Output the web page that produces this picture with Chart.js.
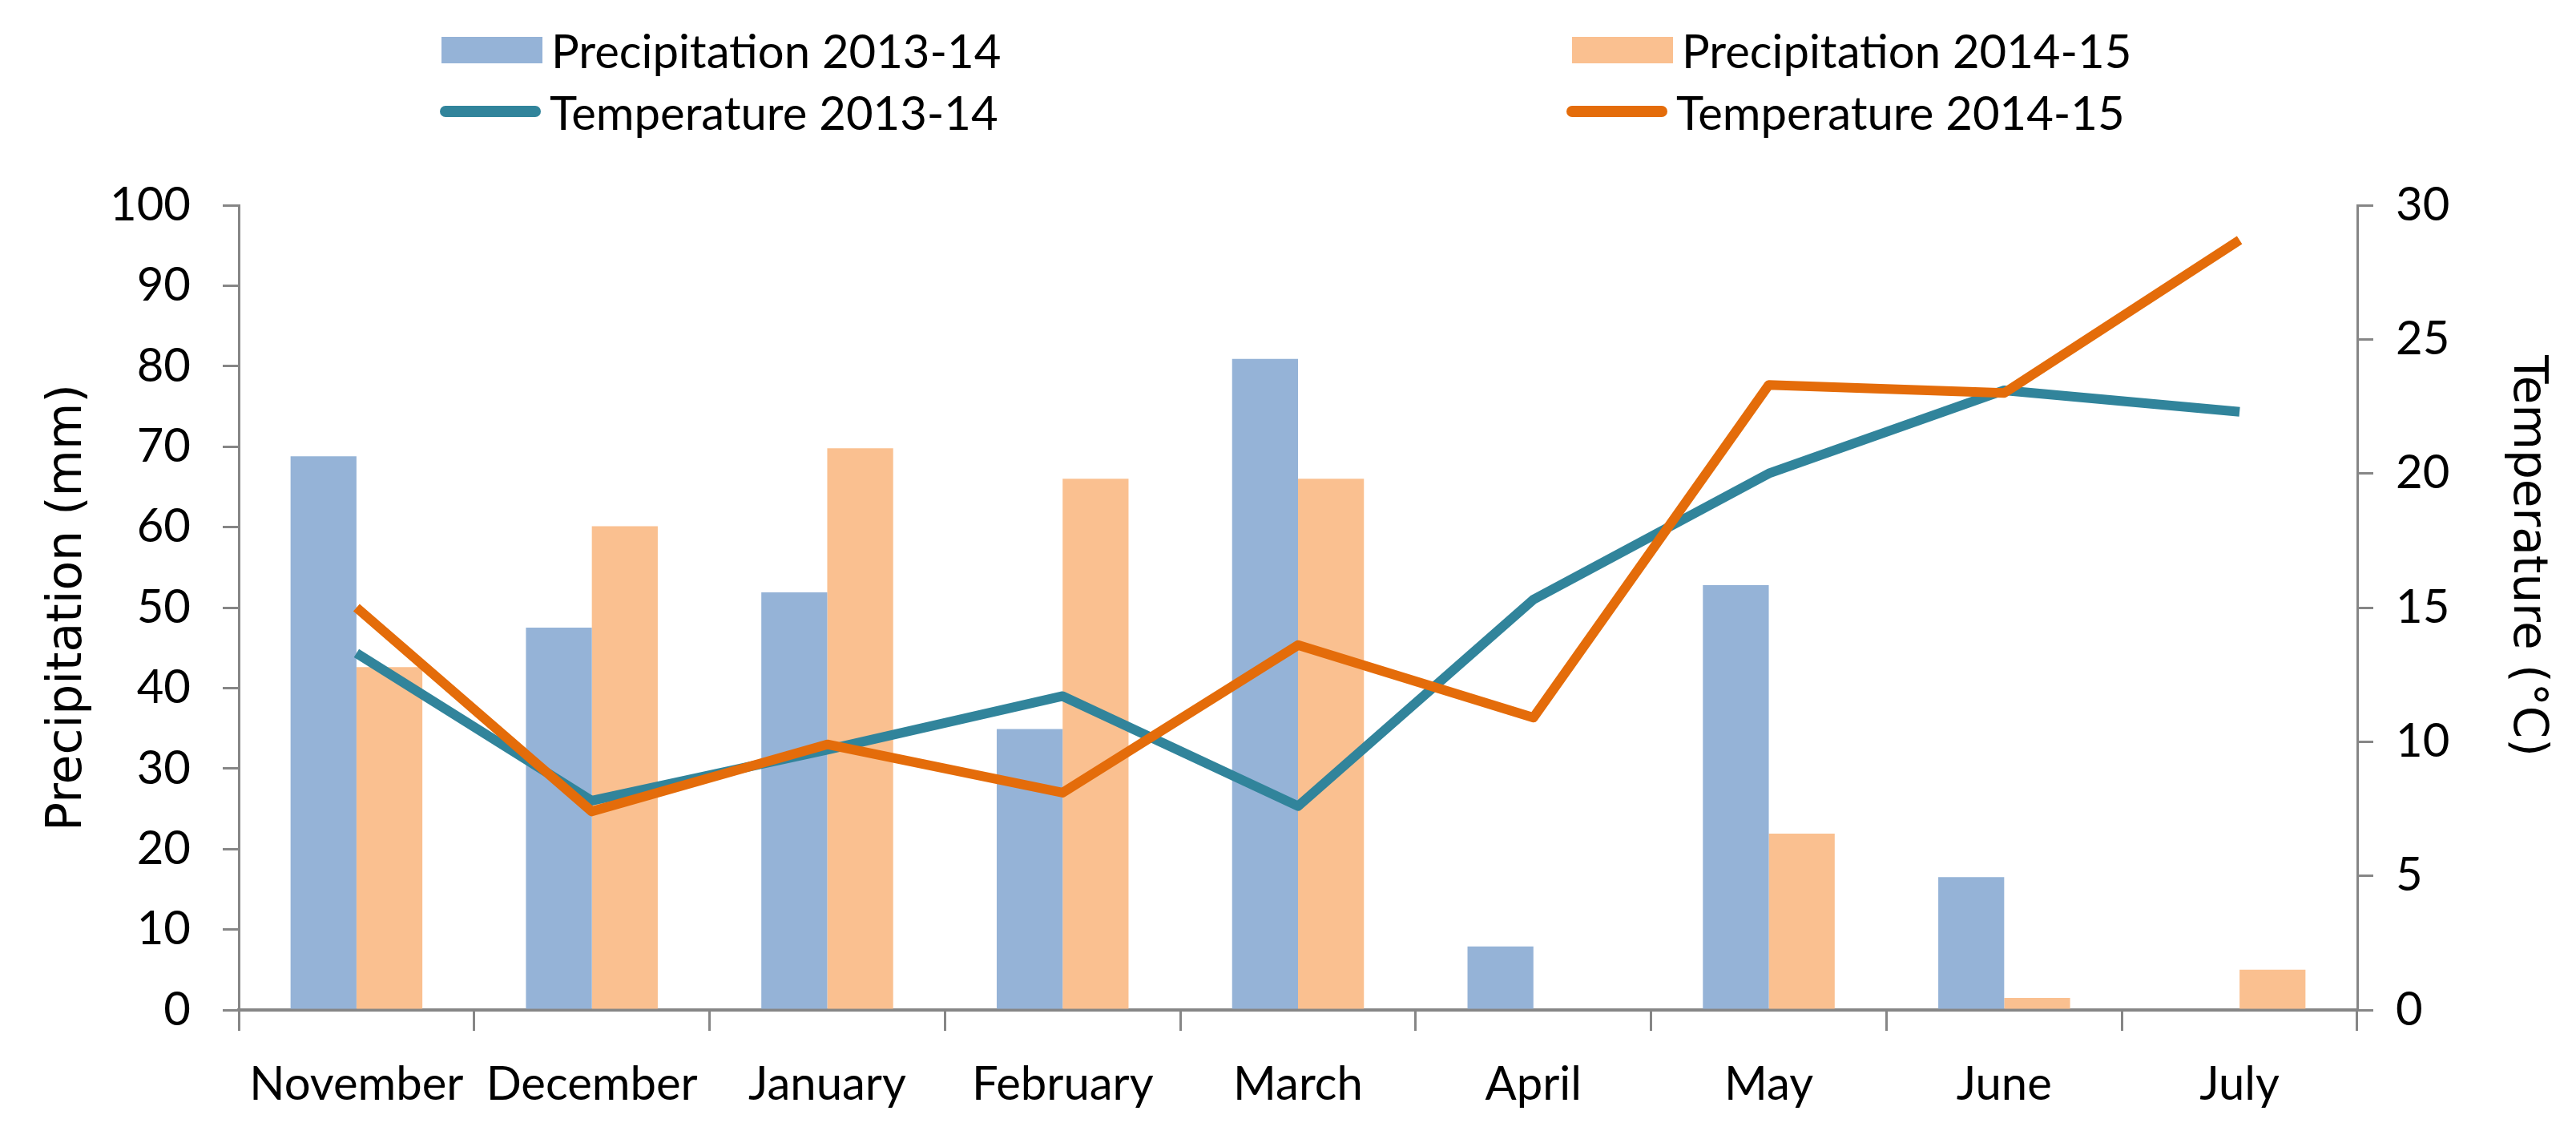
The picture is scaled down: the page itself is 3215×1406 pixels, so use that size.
<!DOCTYPE html>
<html>
<head>
<meta charset="utf-8">
<script src="https://cdn.jsdelivr.net/npm/chart.js@4.4.1/dist/chart.umd.min.js"></script>
<style>
  body { margin: 0; background: #fff; }
  #wrap { position: relative; width: 3215px; height: 1406px; }
  #legend { position: absolute; left: 0; top: 0; width: 3215px; height: 200px; font-family: Lato, sans-serif; font-size: 58px; color: #000; }
  .item { position: absolute; display: flex; align-items: center; height: 70px; }
  .swatch { width: 126px; margin-right: 11px; }
</style>
</head>
<body>
<div id="wrap">
  <canvas id="chart-combo" width="3215" height="1406"></canvas>
  <div id="legend"></div>
</div>
<script>
var months = ["November", "December", "January", "February", "March", "April", "May", "June", "July"];

// precipitation, mm (left axis)
var precip1314 = [68.8, 47.5, 51.9, 34.9, 80.9, 7.9, 52.8, 16.5, null];
var precip1415 = [42.6, 60.1, 69.8, 66.0, 66.0, null, 21.9, 1.5, 5.0];

// temperature, °C (right axis)
var temp1314 = [13.3, 7.8, 9.7, 11.7, 7.6, 15.3, 20.0, 23.1, 22.3];
var temp1415 = [15.0, 7.4, 9.9, 8.1, 13.6, 10.9, 23.3, 23.0, 28.7];

var axisColor = "#868686";
var tickFont = { family: "Lato, sans-serif", size: 58 };
var titleFont = { family: "'DejaVu Sans', sans-serif", size: 60 };

var ctx1 = document.getElementById("chart-combo").getContext("2d");

var chart = new Chart(ctx1, {
    type: "bar",
    data: {
        labels: months,
        datasets: [{
            label: "Precipitation 2013-14",
            data: precip1314,
            backgroundColor: "#95B3D7",
            yAxisID: "y",
            order: 2
        }, {
            label: "Precipitation 2014-15",
            data: precip1415,
            backgroundColor: "#FAC090",
            yAxisID: "y",
            order: 2
        }, {
            type: "line",
            label: "Temperature 2013-14",
            data: temp1314,
            borderColor: "#31849B",
            borderWidth: 12,
            pointRadius: 0,
            tension: 0,
            borderJoinStyle: "round",
            yAxisID: "y1",
            order: 1
        }, {
            type: "line",
            label: "Temperature 2014-15",
            data: temp1415,
            borderColor: "#E46C0A",
            borderWidth: 12,
            pointRadius: 0,
            tension: 0,
            borderJoinStyle: "round",
            yAxisID: "y1",
            order: 0
        }]
    },
    options: {
        responsive: false,
        animation: false,
        devicePixelRatio: 1,
        categoryPercentage: 0.56,
        barPercentage: 1.0,
        layout: {
            padding: { top: 256, left: 0, right: 0, bottom: 0 }
        },
        plugins: {
            legend: { display: false },
            tooltip: { enabled: false }
        },
        scales: {
            x: {
                grid: {
                    offset: true,
                    drawOnChartArea: false,
                    color: axisColor,
                    lineWidth: 3,
                    tickLength: 26
                },
                border: { color: axisColor, width: 4 },
                ticks: { color: "#000", font: tickFont, padding: 32, maxRotation: 0, autoSkip: false },
                afterFit: function (scale) { scale.height = 146; }
            },
            y: {
                position: "left",
                min: 0,
                max: 100,
                ticks: { stepSize: 10, color: "#000", font: tickFont, padding: 40 },
                grid: { drawOnChartArea: false, color: axisColor, lineWidth: 3, tickLength: 20 },
                border: { color: axisColor, width: 3 },
                title: {
                    display: true,
                    text: "Precipitation (mm)",
                    color: "#000",
                    font: titleFont,
                    padding: { top: 49, bottom: 0 }
                },
                afterFit: function (scale) { scale.width = 298; }
            },
            y1: {
                position: "right",
                min: 0,
                max: 30,
                ticks: { stepSize: 5, color: "#000", font: tickFont, padding: 28 },
                grid: { drawOnChartArea: false, color: axisColor, lineWidth: 3, tickLength: 20 },
                border: { color: axisColor, width: 3 },
                title: {
                    display: true,
                    // trailing no-break spaces lift the title a little, as in the original
                    text: "Temperature (°C)\u00a0\u00a0\u00a0\u00a0\u00a0\u00a0\u00a0",
                    color: "#000",
                    font: { family: "'DejaVu Sans', sans-serif", size: 58 },
                    padding: { top: 27, bottom: 0 }
                },
                afterFit: function (scale) { scale.width = 273; }
            }
        }
    }
});

// legend laid out as a 2x2 grid like the original
var spots = [
    { x: 551, y: 27, line: false },
    { x: 1962, y: 27, line: false },
    { x: 549, y: 104, line: true },
    { x: 1955, y: 104, line: true }
];
var legend = document.getElementById("legend");
chart.data.datasets.forEach(function (ds, i) {
    var item = document.createElement("div");
    item.className = "item";
    item.style.left = spots[i].x + "px";
    item.style.top = spots[i].y + "px";
    var sw = document.createElement("span");
    sw.className = "swatch";
    if (spots[i].line) {
        sw.style.height = "14px";
        sw.style.borderRadius = "7px";
        sw.style.background = ds.borderColor;
    } else {
        sw.style.height = "33px";
        sw.style.background = ds.backgroundColor;
    }
    var txt = document.createElement("span");
    txt.textContent = ds.label;
    item.appendChild(sw);
    item.appendChild(txt);
    legend.appendChild(item);
});
</script>
</body>
</html>
